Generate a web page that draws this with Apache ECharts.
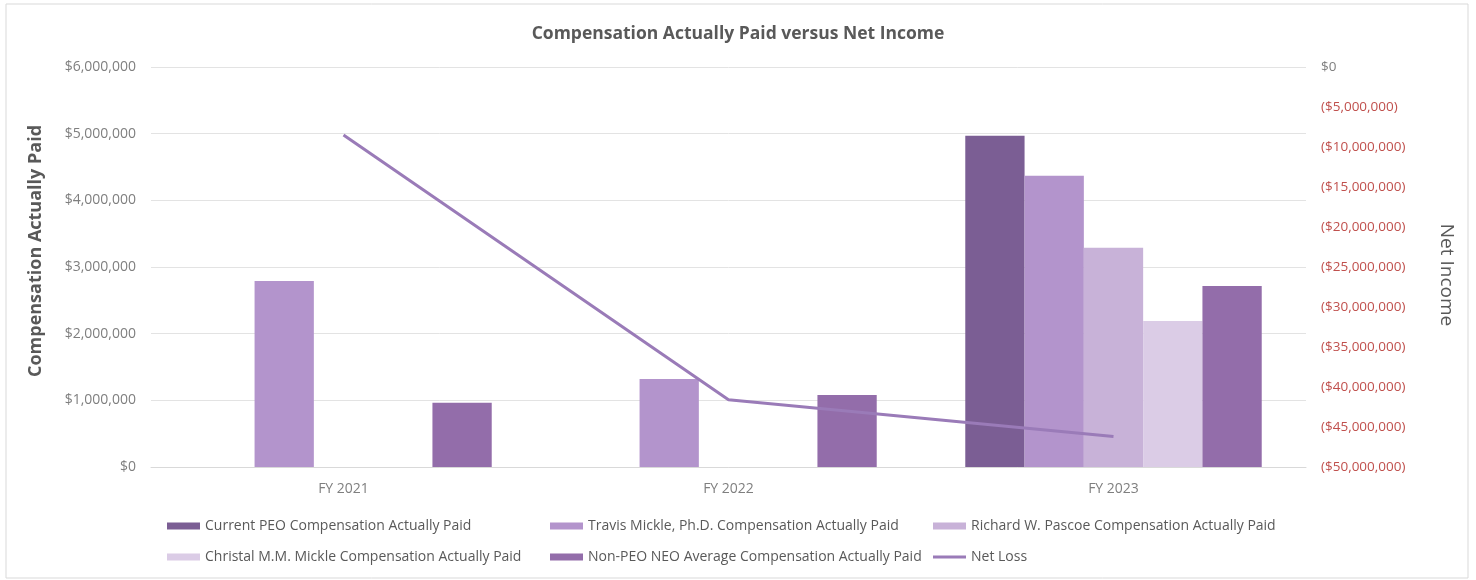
<!DOCTYPE html>
<html>
<head>
<meta charset="utf-8">
<script src="https://cdn.jsdelivr.net/npm/echarts@6/dist/echarts.min.js"></script>
<style>
  html, body { margin: 0; padding: 0; background: #fff; }
  #chart { width: 1476px; height: 580px; }
</style>
</head>
<body>
<div id="chart"></div>
<script>
var categories = ['FY 2021', 'FY 2022', 'FY 2023'];
var currentPeo = [null, null, 4970000];
var travisMickle = [2790000, 1320000, 4370000];
var richardPascoe = [null, null, 3290000];
var christalMickle = [null, null, 2190000];
var nonPeoAverage = [965000, 1080000, 2715000];
var netLoss = [-8500000, -41600000, -46200000];

var names = [
  'Current PEO Compensation Actually Paid',
  'Travis Mickle, Ph.D. Compensation Actually Paid',
  'Richard W. Pascoe Compensation Actually Paid',
  'Christal M.M. Mickle Compensation Actually Paid',
  'Non-PEO NEO Average Compensation Actually Paid',
  'Net Loss'
];

var font = '"Open Sans", sans-serif';
var grey = '#7f7f7f';
var lineIcon = 'path://M0 0H110V10H0Z';

function money(v) {
  return '$' + Math.abs(v).toLocaleString('en-US');
}

function bar(name, data, color) {
  return {
    name: name,
    type: 'bar',
    data: data,
    barGap: '0%',
    barCategoryGap: '23%',
    itemStyle: { color: color },
    emphasis: { disabled: true }
  };
}

// excel puts the legend in three columns, so one vertical legend per column
function legendCol(left, data) {
  return {
    orient: 'vertical',
    left: left,
    top: 519,
    padding: 0,
    itemWidth: 33,
    itemHeight: 7,
    itemGap: 17,
    icon: 'rect',
    textStyle: { color: '#595959', fontSize: 14, fontFamily: font },
    data: data
  };
}

var chart = echarts.init(document.getElementById('chart'));
chart.setOption({
  backgroundColor: '#fff',
  animation: false,
  graphic: [{
    type: 'rect',
    shape: { x: 6, y: 4, width: 1462, height: 574 },
    style: { fill: 'none', stroke: '#d9d9d9', lineWidth: 1 },
    silent: true
  }],
  title: {
    text: 'Compensation Actually Paid versus Net Income',
    left: 'center',
    top: 20,
    textStyle: { color: '#595959', fontSize: 17.5, fontWeight: 'bold', fontFamily: font }
  },
  legend: [
    legendCol(167, [names[0], names[3]]),
    legendCol(550, [names[1], names[4]]),
    legendCol(933, [names[2], { name: names[5], icon: lineIcon }])
  ],
  grid: { left: 151, right: 170, top: 67, bottom: 113 },
  xAxis: {
    type: 'category',
    data: categories,
    axisLine: { lineStyle: { color: '#d9d9d9' } },
    axisTick: { show: false },
    axisLabel: { color: grey, fontSize: 14, fontFamily: font, margin: 15 }
  },
  yAxis: [
    {
      type: 'value',
      min: 0,
      max: 6000000,
      interval: 1000000,
      name: 'Compensation Actually Paid',
      nameLocation: 'middle',
      nameRotate: 90,
      nameGap: 106,
      nameTextStyle: { color: '#595959', fontSize: 18, fontWeight: 'bold', fontFamily: font, padding: [0, 0, 0, 32] },
      axisLine: { show: false },
      axisTick: { show: false },
      splitLine: { lineStyle: { color: '#e3e3e3' } },
      axisLabel: { color: grey, fontSize: 14, fontFamily: font, margin: 15, formatter: money }
    },
    {
      type: 'value',
      min: -50000000,
      max: 0,
      interval: 5000000,
      name: 'Net Income',
      nameLocation: 'middle',
      nameRotate: -90,
      nameGap: 131,
      nameTextStyle: { color: '#595959', fontSize: 19, fontFamily: font, padding: [0, 0, 0, 16] },
      axisLine: { show: false },
      axisTick: { show: false },
      splitLine: { show: false },
      axisLabel: {
        fontSize: 13.5,
        fontFamily: font,
        margin: 15,
        color: function (v) { return Number(v) < 0 ? '#c0504d' : grey; },
        formatter: function (v) { return v < 0 ? '(' + money(v) + ')' : money(v); }
      }
    }
  ],
  series: [
    bar(names[0], currentPeo, '#7b5e94'),
    bar(names[1], travisMickle, '#b394cc'),
    bar(names[2], richardPascoe, '#c8b2d8'),
    bar(names[3], christalMickle, '#dbcce6'),
    bar(names[4], nonPeoAverage, '#936daa'),
    {
      name: names[5],
      type: 'line',
      yAxisIndex: 1,
      data: netLoss,
      symbol: 'none',
      lineStyle: { color: '#9a7bb8', width: 3 },
      itemStyle: { color: '#9a7bb8' },
      emphasis: { disabled: true }
    }
  ]
});
</script>
</body>
</html>
